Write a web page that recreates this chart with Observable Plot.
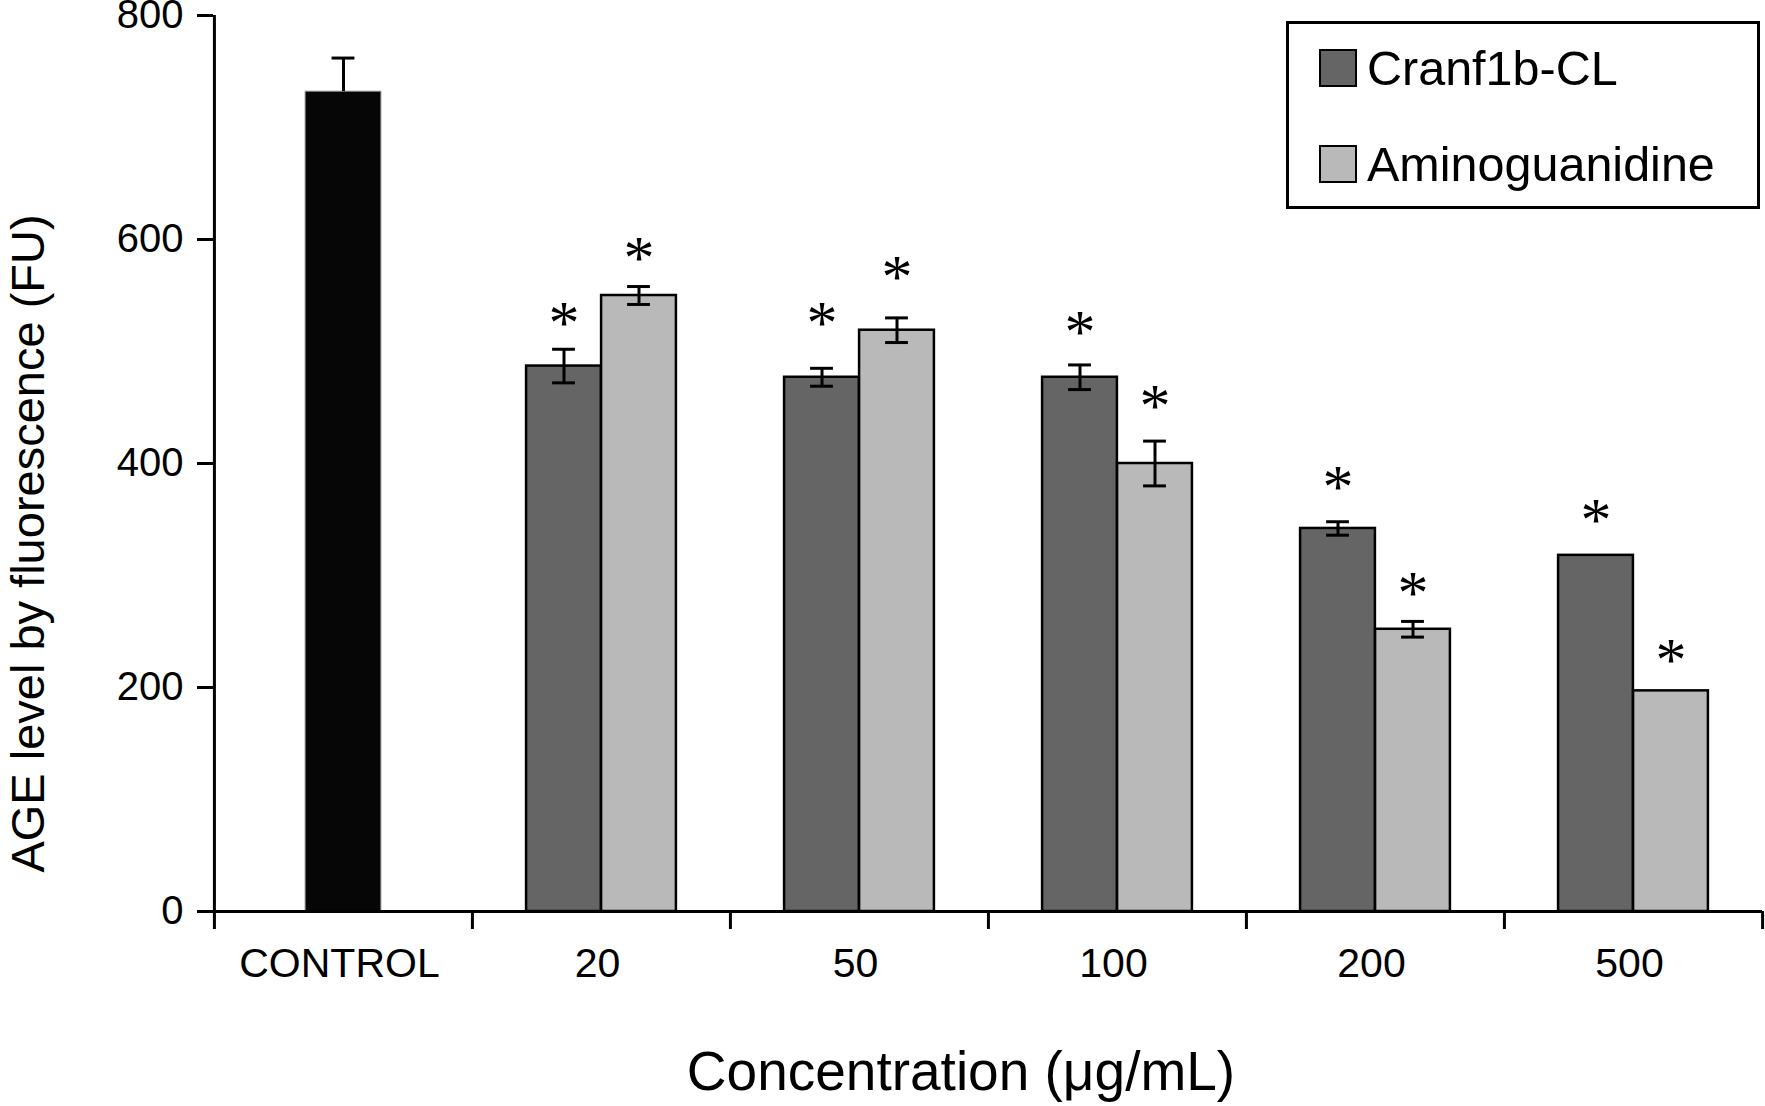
<!DOCTYPE html>
<html>
<head>
<meta charset="utf-8">
<script src="https://cdn.jsdelivr.net/npm/d3@7"></script>
<script src="https://cdn.jsdelivr.net/npm/@observablehq/plot@0.6"></script>
<style>
  html, body { margin: 0; padding: 0; background: white; }
  #wrap { position: relative; width: 1765px; height: 1106px; font-family: "Liberation Sans", Arial, Helvetica, sans-serif; }
  #legend { position: absolute; left: 1286px; top: 21px; width: 468px; height: 182px; border: 3px solid #000; background: #fff; box-sizing: content-box; }
  .row { position: absolute; left: 30px; height: 40px; display: flex; align-items: center; }
  .sw { width: 34px; height: 34px; border: 2.5px solid #000; margin-right: 10px; }
  .lab { font-size: 48.5px; line-height: 40px; color: #000; white-space: nowrap; }
</style>
</head>
<body>
<div id="wrap"></div>
<script>
// ---- data ----
const categories = ["CONTROL", "20", "50", "100", "200", "500"];
const series = ["Cranf1b-CL", "Aminoguanidine"];
const seriesColors = ["#656565", "#b9b9b9"];
const controlValue = 732;
const controlError = 30;
const cranfValues = [487, 477, 477, 342, 318];
const cranfErrors = [15, 8, 11, 6, 0];
const cranfStars = [531, 531, 523, 384, 355];
const aminoValues = [550, 519, 400, 252, 197];
const aminoErrors = [8, 11, 20, 7, 0];
const aminoStars = [589, 572, 457, 290, 230];
const yTicks = [0, 200, 400, 600, 800];
const xTitle = "Concentration (μg/mL)";
const yTitle = "AGE level by fluorescence (FU)";

// ---- layout ----
const W = 1765, H = 1106;
const mL = 213, mR = 3, mT = 15, mB = 195;
const bw = (W - mL - mR) / categories.length;
const barW = 75, ctrlHalf = 38, capHalf = 11.5;
const font = '"Liberation Sans", Arial, Helvetica, sans-serif';
const starFont = '"Liberation Serif", "Times New Roman", serif';

const rows = [];
categories.slice(1).forEach((c, i) => {
  rows.push({conc: c, series: series[0], value: cranfValues[i], error: cranfErrors[i], star: cranfStars[i]});
  rows.push({conc: c, series: series[1], value: aminoValues[i], error: aminoErrors[i], star: aminoStars[i]});
});
const ctrl = [{conc: categories[0], value: controlValue, error: controlError}];
const cr = rows.filter(d => d.series === series[0]);
const am = rows.filter(d => d.series === series[1]);

const errMarks = (data, off) => {
  const d2 = data.filter(d => d.error > 0);
  return [
    Plot.ruleX(d2, {x: "conc", y1: d => d.value - d.error, y2: d => d.value + d.error, dx: off, stroke: "#000", strokeWidth: 3}),
    Plot.tickY(d2, {x: "conc", y: d => d.value + d.error, insetLeft: bw / 2 + off - capHalf, insetRight: bw / 2 - off - capHalf, stroke: "#000", strokeWidth: 3}),
    Plot.tickY(d2, {x: "conc", y: d => d.value - d.error, insetLeft: bw / 2 + off - capHalf, insetRight: bw / 2 - off - capHalf, stroke: "#000", strokeWidth: 3})
  ];
};

const starMark = (data, off) =>
  Plot.text(data, {x: "conc", y: "star", text: () => "*", dx: off, dy: 6, fontSize: 62, fontFamily: starFont, fill: "#000"});

const chart = Plot.plot({
  width: W, height: H,
  marginLeft: mL, marginRight: mR, marginTop: mT, marginBottom: mB,
  style: {fontFamily: font, background: "white", color: "#000", overflow: "visible"},
  x: {type: "band", domain: categories, padding: 0, axis: null},
  y: {domain: [0, 800], axis: null},
  marks: [
    // bars
    Plot.barY(ctrl, {x: "conc", y: "value", fill: "#060606", stroke: "#9a9a9a", strokeWidth: 1, insetLeft: bw / 2 - ctrlHalf, insetRight: bw / 2 - ctrlHalf}),
    Plot.barY(cr, {x: "conc", y: "value", fill: seriesColors[0], stroke: "#000", strokeWidth: 2.5, insetLeft: bw / 2 - barW, insetRight: bw / 2}),
    Plot.barY(am, {x: "conc", y: "value", fill: seriesColors[1], stroke: "#000", strokeWidth: 2.5, insetLeft: bw / 2, insetRight: bw / 2 - barW}),
    // control error (upper only)
    Plot.ruleX(ctrl, {x: "conc", y1: "value", y2: d => d.value + d.error, stroke: "#000", strokeWidth: 3}),
    Plot.tickY(ctrl, {x: "conc", y: d => d.value + d.error, insetLeft: bw / 2 - capHalf, insetRight: bw / 2 - capHalf, stroke: "#000", strokeWidth: 3}),
    ...errMarks(cr, -barW / 2),
    ...errMarks(am, barW / 2),
    // significance stars
    starMark(cr, -barW / 2),
    starMark(am, barW / 2),
    // axes
    Plot.ruleY([0], {stroke: "#000", strokeWidth: 3}),
    Plot.ruleX([categories[0]], {x: d => d, dx: -bw / 2, y1: 0, y2: 800, stroke: "#000", strokeWidth: 3}),
    Plot.axisY({ticks: yTicks, tickSize: 16, tickPadding: 14, fontSize: 40, strokeWidth: 3, label: null, stroke: "#000", fill: "#000"}),
    Plot.axisX({ticks: categories, tickSize: 18, tickPadding: 0, tickFormat: () => "", dx: -bw / 2, strokeWidth: 3, label: null, stroke: "#000"}),
    Plot.axisX({ticks: [categories[categories.length - 1]], tickSize: 18, tickFormat: () => "", dx: bw / 2, strokeWidth: 3, label: null, stroke: "#000"}),
    Plot.axisX({ticks: categories, tickSize: 0, tickPadding: 36, fontSize: 41, dx: -4, label: null, fill: "#000"}),
    // titles
    Plot.text([yTitle], {frameAnchor: "left", text: d => d, rotate: -90, textAnchor: "middle", dx: -170, dy: 80, lineAnchor: "bottom", fontSize: 47, fill: "#000"}),
    Plot.text([xTitle], {frameAnchor: "bottom", text: d => d, textAnchor: "middle", dx: -27, dy: 178, lineAnchor: "bottom", fontSize: 55, fill: "#000"})
  ]
});

const wrap = document.getElementById("wrap");
wrap.appendChild(chart);

// legend
const legend = document.createElement("div");
legend.id = "legend";
series.forEach((s, i) => {
  const row = document.createElement("div");
  row.className = "row";
  row.style.top = (i === 0 ? 24 : 120) + "px";
  const sw = document.createElement("div");
  sw.className = "sw";
  sw.style.background = seriesColors[i];
  const lab = document.createElement("span");
  lab.className = "lab";
  lab.textContent = s;
  row.appendChild(sw);
  row.appendChild(lab);
  legend.appendChild(row);
});
wrap.appendChild(legend);
</script>
</body>
</html>
